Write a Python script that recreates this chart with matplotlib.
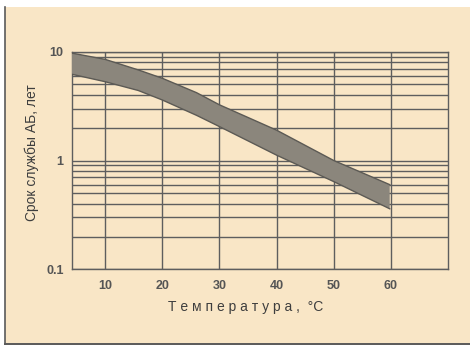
import matplotlib
matplotlib.use("Agg")
import matplotlib.pyplot as plt
from matplotlib.lines import Line2D
from matplotlib.patches import Rectangle
from matplotlib.ticker import FixedLocator, LogLocator, NullFormatter

# Data
temp = [4.2, 10, 15.8, 20, 26, 30, 40, 50, 59.8]
life_upper = [9.7, 8.5, 6.8, 5.7, 4.2, 3.25, 1.9, 1.0, 0.6]
life_lower = [6.2, 5.3, 4.4, 3.6, 2.6, 2.05, 1.12, 0.64, 0.36]
x_ticks = [10, 20, 30, 40, 50, 60]
y_ticks = [0.1, 1, 10]
y_tick_labels = ["0.1", "1", "10"]
x_label = "Т е м п е р а т у р а ,  °C"
y_label = "Срок службы АБ, лет"

plt.rcParams['font.family'] = ['Liberation Sans', 'DejaVu Sans']

W, H = 470, 345
fig = plt.figure(figsize=(W / 100, H / 100), dpi=100)
fig.patch.set_facecolor("white")

bg = "#f9e6c6"
# beige panel with frame lines on the left and bottom
fig.patches.append(Rectangle((5 / W, 0), 1 - 5 / W, 1 - 7 / H, transform=fig.transFigure,
                             facecolor=bg, edgecolor="none", zorder=-10))
fig.lines.append(Line2D([5 / W, 5 / W], [0, 1 - 7 / H], transform=fig.transFigure,
                        color="#5a5a5a", lw=1.2, zorder=-5))
fig.lines.append(Line2D([5 / W, 1], [1.5 / H, 1.5 / H], transform=fig.transFigure,
                        color="#5a5a5a", lw=1.4, zorder=-5))

ax = fig.add_axes([72 / W, 1 - 269.3 / H, (448 - 72) / W, (269.3 - 51.7) / H])
ax.set_zorder(5)
ax.set_facecolor(bg)
ax.set_yscale("log")
ax.set_xlim(4.2, 70)
ax.set_ylim(0.1, 10)

grid_c = "#5e5e5e"
ax.xaxis.set_major_locator(FixedLocator(x_ticks))
ax.yaxis.set_major_locator(FixedLocator(y_ticks))
ax.set_yticklabels(y_tick_labels)
ax.yaxis.set_minor_locator(LogLocator(base=10, subs=range(2, 10)))
ax.yaxis.set_minor_formatter(NullFormatter())
ax.grid(True, which="major", color=grid_c, lw=1.0)
ax.grid(True, which="minor", axis="y", color=grid_c, lw=1.0)
ax.tick_params(which="both", length=0, colors="#555555", labelsize=9)
ax.tick_params(axis="x", pad=8)
ax.tick_params(axis="y", pad=6)
for s in ax.spines.values():
    s.set_color(grid_c)
    s.set_linewidth(1.0)
for lab in ax.get_xticklabels() + ax.get_yticklabels():
    lab.set_fontweight("bold")

ax.fill_between(temp, life_lower, life_upper, facecolor="#8b867c", edgecolor="none", zorder=3)
ax.plot(temp, life_upper, color="#5c5a55", lw=1.0, zorder=4)
ax.plot(temp, life_lower, color="#5c5a55", lw=1.0, zorder=4)

fig.text(246 / W, 1 - 307 / H, x_label, ha="center", va="center",
         fontsize=10, color="#3e3e3e")
fig.text(32 / W, 1 - 153 / H, y_label, ha="center", va="center", rotation=90,
         fontsize=10, color="#3e3e3e")

fig.savefig("out.png", dpi=100, facecolor=fig.get_facecolor())
